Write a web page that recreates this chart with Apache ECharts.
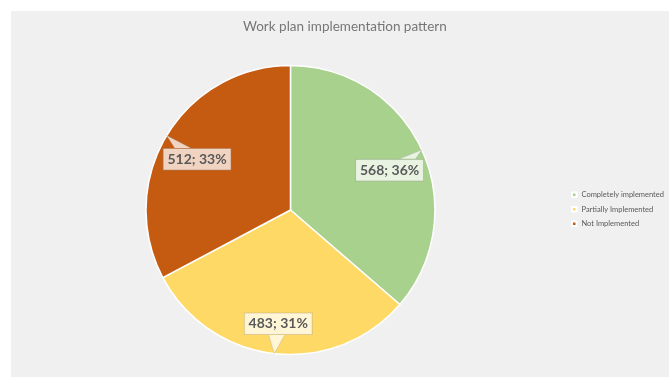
<!DOCTYPE html>
<html>
<head>
<meta charset="utf-8">
<title>Work plan implementation pattern</title>
<script src="https://cdn.jsdelivr.net/npm/echarts@6/dist/echarts.min.js"></script>
<style>
  html, body { margin: 0; padding: 0; background: #ffffff; }
  #wrap { position: relative; width: 669px; height: 377px; overflow: hidden; }
  #panel { position: absolute; left: 11px; top: 11px; right: 0; bottom: 0; background: #f0f0f0; }
  #chart { position: absolute; left: 0; top: 0; width: 669px; height: 377px; }
</style>
</head>
<body>
<div id="wrap">
  <div id="panel"></div>
  <div id="chart"></div>
</div>
<script>
// Implementation status of work plan items
const categories = ['Completely implemented', 'Partially Implemented', 'Not Implemented'];
const counts = [568, 483, 512];
const sliceColors = ['#a9d18e', '#ffd966', '#c55a11'];

const chart = echarts.init(document.getElementById('chart'), null, { renderer: 'canvas' });

const CENTER = ['43.42%', '55.7%'];
const RADIUS = 144.5;
// Distance from the pie centre at which the callout boxes sit, plus a small downward nudge
const CALLOUT_R = 109;
const CALLOUT_DROP = 5.5;
const CALLOUT_FILL = 'rgba(255,255,255,0.74)';
const CALLOUT_EDGE = 'rgba(150,150,150,0.35)';

const cx = chart.getWidth() * parseFloat(CENTER[0]) / 100;
const cy = chart.getHeight() * parseFloat(CENTER[1]) / 100;

const pieData = categories.map((name, i) => ({
  name: name,
  value: counts[i],
  itemStyle: { color: sliceColors[i] }
}));

chart.setOption({
  animation: false,
  title: {
    text: 'Work plan implementation pattern',
    left: 243,
    top: 20,
    padding: 0,
    textStyle: {
      fontFamily: 'Lato',
      fontSize: 13.5,
      fontWeight: 'normal',
      color: '#767676'
    }
  },
  legend: {
    orient: 'vertical',
    left: 571,
    top: 190,
    padding: 0,
    icon: 'rect',
    itemWidth: 4.5,
    itemHeight: 4.5,
    itemGap: 5,
    selectedMode: false,
    data: categories,
    textStyle: {
      fontFamily: 'Lato',
      fontSize: 7.5,
      lineHeight: 9.5,
      color: '#595959'
    }
  },
  series: [{
    type: 'pie',
    center: CENTER,
    radius: RADIUS,
    startAngle: 90,
    clockwise: true,
    silent: true,
    avoidLabelOverlap: false,
    percentPrecision: 0,
    itemStyle: { borderColor: '#ffffff', borderWidth: 1.5 },
    emphasis: { disabled: true },
    label: {
      show: true,
      position: 'outside',
      formatter: '{c}; {d}%',
      fontFamily: 'Lato',
      fontSize: 14,
      fontWeight: 'bold',
      color: '#595959',
      backgroundColor: CALLOUT_FILL,
      borderColor: CALLOUT_EDGE,
      borderWidth: 0.8,
      padding: [4, 4, 3, 4]
    },
    labelLine: { show: false },
    // Pull each callout box back inside its slice, on the line through the slice middle
    labelLayout: function (p) {
      const pts = p.labelLinePoints;
      if (!pts || !pts.length) return {};
      const dx = pts[0][0] - cx;
      const dy = pts[0][1] - cy;
      const d = Math.sqrt(dx * dx + dy * dy) || 1;
      return {
        x: cx + dx / d * CALLOUT_R,
        y: cy + dy / d * CALLOUT_R + CALLOUT_DROP,
        align: 'center',
        verticalAlign: 'middle'
      };
    },
    data: pieData
  }]
});

// Callout pointers: a wedge from each label box to the rim at the slice's mid-angle
function buildPointers() {
  const data = chart.getModel().getSeriesByIndex(0).getData();
  const shapes = [];
  for (let i = 0; i < data.count(); i++) {
    const lay = data.getItemLayout(i);
    const el = data.getItemGraphicEl(i);
    const label = el && el.getTextContent();
    if (!lay || !label) continue;
    const mid = (lay.startAngle + lay.endAngle) / 2;
    const tip = [lay.cx + lay.r * Math.cos(mid), lay.cy + lay.r * Math.sin(mid)];
    const rect = label.getBoundingRect().clone();
    rect.applyTransform(label.getComputedTransform());
    const bx = rect.x + rect.width / 2;
    const by = rect.y + rect.height / 2;
    const hw = rect.width / 2;
    const hh = rect.height / 2;
    const ux = tip[0] - bx;
    const uy = tip[1] - by;
    const tx = Math.abs(ux) > 1e-6 ? hw / Math.abs(ux) : Infinity;
    const ty = Math.abs(uy) > 1e-6 ? hh / Math.abs(uy) : Infinity;
    const half = 8;
    let base;
    if (ty <= tx) {
      // leaves through the top or bottom edge
      const ex = Math.max(rect.x + half, Math.min(rect.x + rect.width - half, bx + ux * ty));
      const ey = by + uy * ty;
      base = [[ex - half, ey], [ex + half, ey]];
    } else {
      const ex = bx + ux * tx;
      const ey = Math.max(rect.y + half, Math.min(rect.y + rect.height - half, by + uy * tx));
      base = [[ex, ey - half], [ex, ey + half]];
    }
    shapes.push({
      type: 'polyline',
      z: 100,
      silent: true,
      shape: { points: [base[0], tip, base[1]] },
      style: { fill: CALLOUT_FILL, stroke: CALLOUT_EDGE, lineWidth: 0.8 }
    });
  }
  chart.setOption({ graphic: { elements: shapes } });
}

try { buildPointers(); } catch (e) { /* pointers are decorative */ }
</script>
</body>
</html>
